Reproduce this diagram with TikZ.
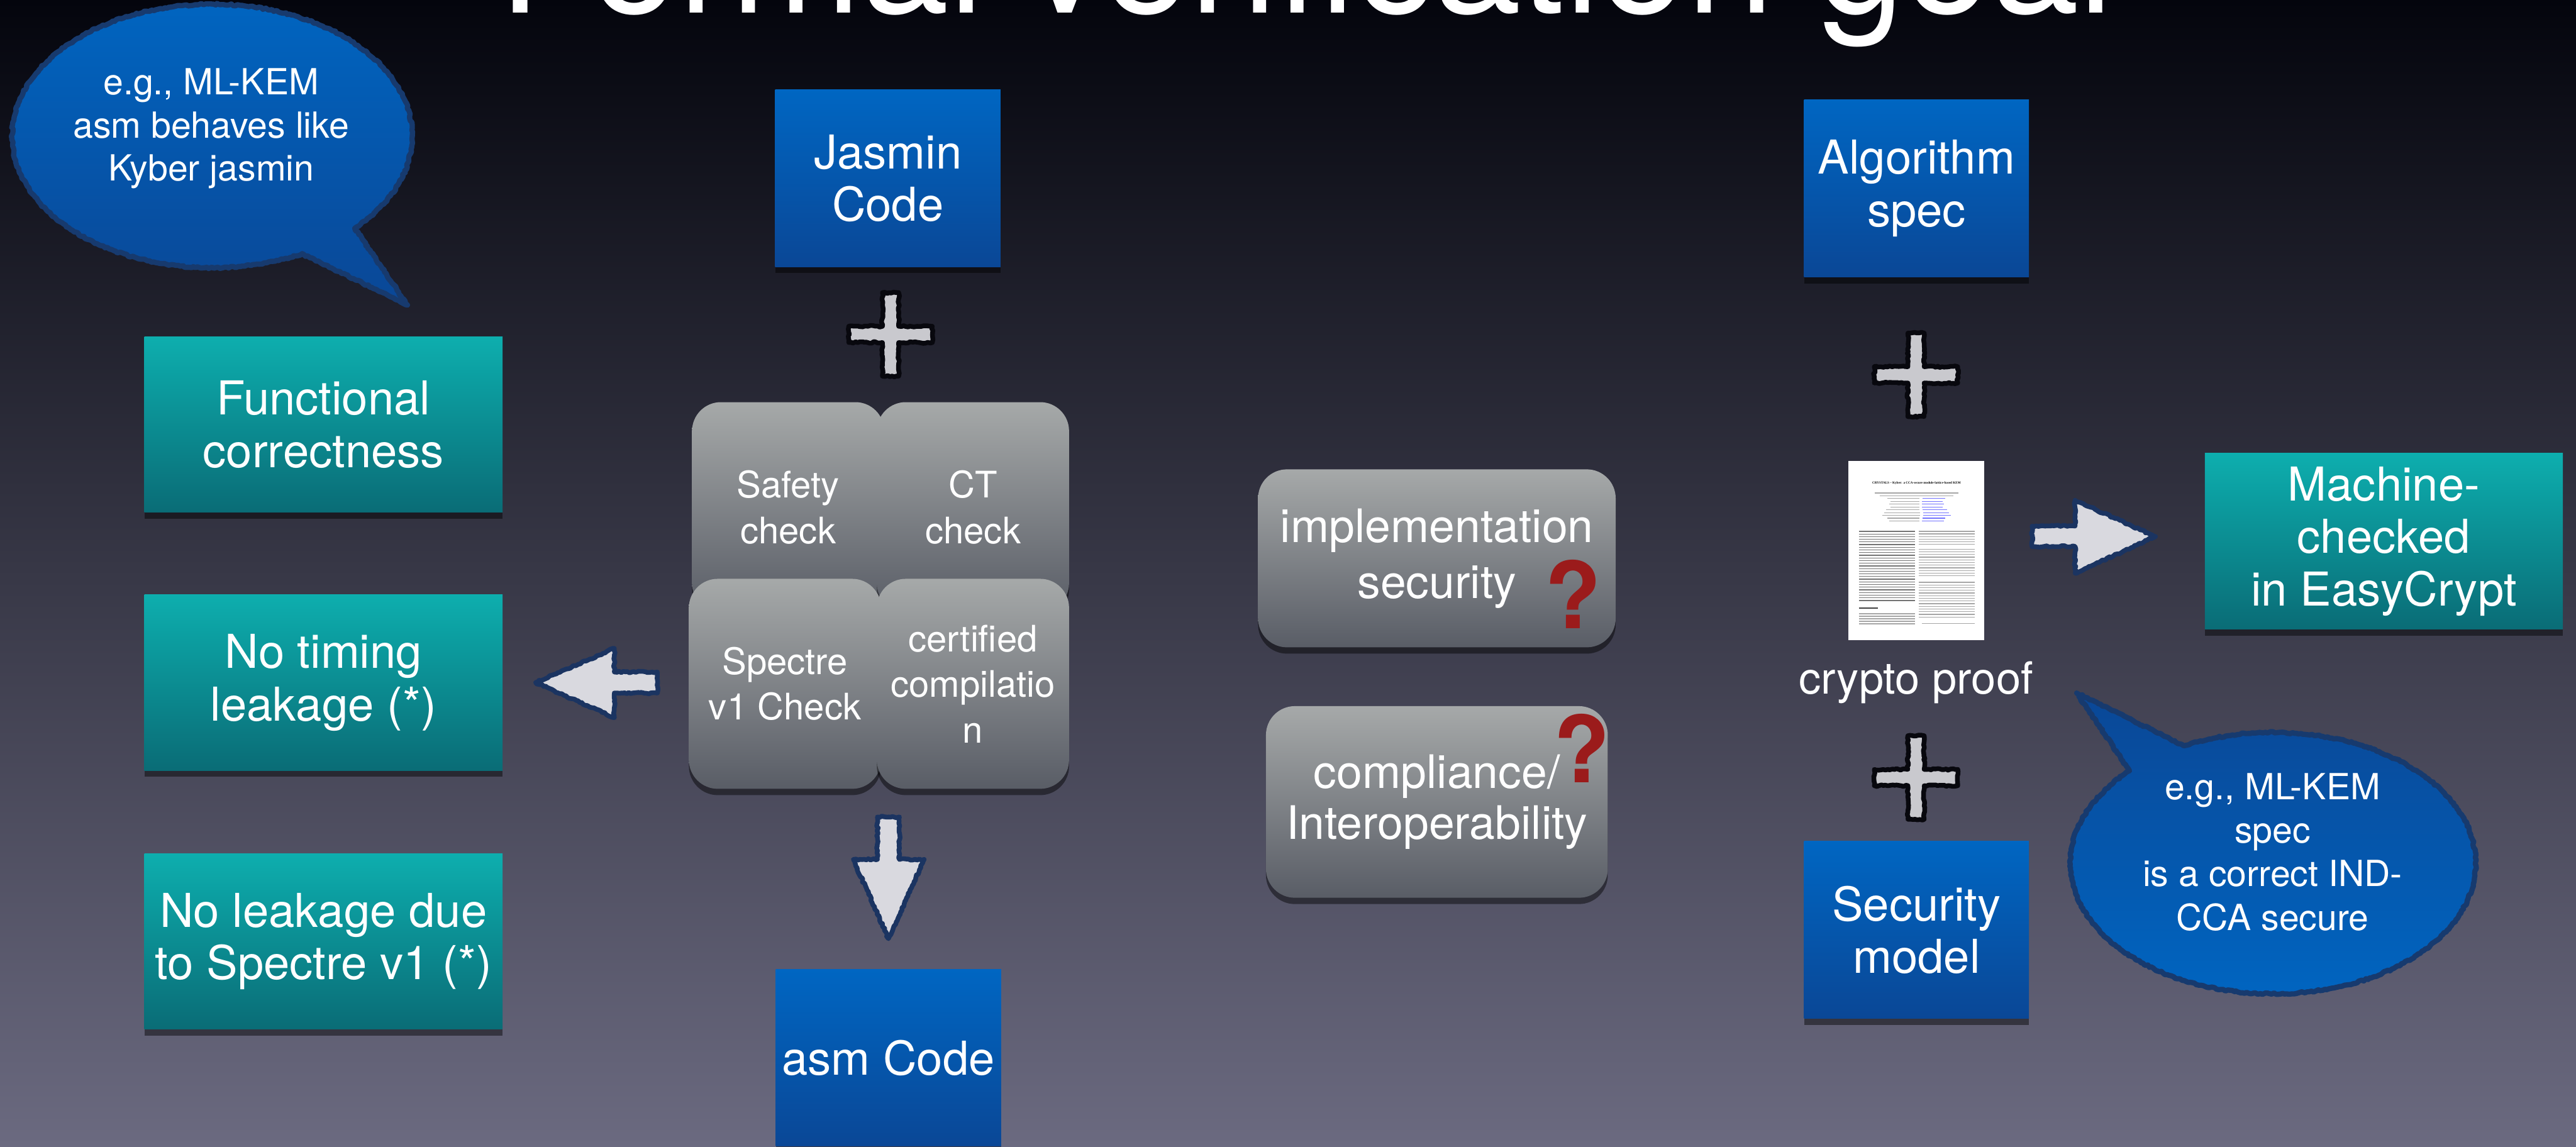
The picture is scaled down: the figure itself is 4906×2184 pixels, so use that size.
\documentclass[tikz,border=0pt]{standalone}
\usepackage{fontspec}
\setmainfont{TeX Gyre Heros}
\newfontfamily\paperfont{Liberation Serif}
\usetikzlibrary{shadows,decorations.pathmorphing}

\definecolor{bgtop}{HTML}{04050D}
\definecolor{bgmid}{HTML}{262A52}
\definecolor{bgbot}{HTML}{6B6A80}
\definecolor{bluetop}{HTML}{0066C2}
\definecolor{bluebot}{HTML}{0A4796}
\definecolor{tealtop}{HTML}{0DAEAE}
\definecolor{tealbot}{HTML}{0A6C76}
\definecolor{graytop}{HTML}{A6A9A9}
\definecolor{graybot}{HTML}{595D66}
\definecolor{arrowfill}{HTML}{D9D9DF}
\definecolor{arrowedge}{HTML}{1B3461}
\definecolor{plusfill}{HTML}{C9C9CE}
\definecolor{plusedge}{HTML}{08080E}
\definecolor{bubbleedge}{HTML}{173A6E}
\definecolor{qred}{HTML}{9B1B1B}

\newcommand\szTitle{\fontsize{85}{90}\selectfont}
\newcommand\szMain{\fontsize{25.3}{28.45}\selectfont}
\newcommand\szCheck{\fontsize{19.8}{24.75}\selectfont}
\newcommand\szBubble{\fontsize{19.5}{23.4}\selectfont}
\newcommand\szQuery{\fontsize{50}{50}\selectfont\bfseries}

\pgfmathsetseed{7}

\tikzset{
  x=0.1mm, y=0.1mm,
  softshadow/.style={drop shadow={shadow xshift=0pt, shadow yshift=-1.2mm, opacity=0.45, fill=black}},
  wtext/.style={text=white, align=center, inner sep=0pt},
  bluebox/.style={wtext, softshadow, top color=bluetop, bottom color=bluebot,
    minimum width=42.9mm, minimum height=33.7mm, font=\szMain},
  tealbox/.style={wtext, softshadow, top color=tealtop, bottom color=tealbot,
    minimum width=68.2mm, minimum height=33.5mm, font=\szMain},
  graybox/.style={wtext, softshadow, top color=graytop, bottom color=graybot, rounded corners=5.5mm},
  checkbox/.style={graybox, minimum width=36.6mm, minimum height=40mm, font=\szCheck},
  rough/.style={decorate, decoration={random steps, segment length=1.2pt, amplitude=0.45pt}},
  blockarrow/.style={fill=arrowfill, draw=arrowedge, line width=0.9mm, line join=round, rough},
  plussign/.style={fill=plusfill, draw=plusedge, line width=0.9mm, line join=round, rough},
  bubble/.style={draw=bubbleedge, line width=1mm, line join=round, rough},
  query/.style={text=qred, font=\szQuery, anchor=base, inner sep=0pt},
  textline/.style={line width=0.15mm, draw=gray!70},
  pics/plus/.style={code={
    \path[plussign] (-15.5,79.5) -- (15.5,79.5) -- (15.5,15.5) -- (79.5,15.5) -- (79.5,-15.5)
      -- (15.5,-15.5) -- (15.5,-79.5) -- (-15.5,-79.5) -- (-15.5,-15.5) -- (-79.5,-15.5)
      -- (-79.5,15.5) -- (-15.5,15.5) -- cycle;}},
}

\begin{document}
\begin{tikzpicture}
\useasboundingbox (0,0) rectangle (4906,2184);
\clip (0,0) rectangle (4906,2184);
\shade[top color=bgtop, middle color=bgmid, bottom color=bgbot] (0,0) rectangle (4906,2184);

% title, partly above the frame
\node[anchor=base, text=white, font=\szTitle, inner sep=0pt] (title) at (2488,2159) {Formal verification goal};

% ---- left column: proved properties ----
\node[tealbox] (func) at (616,1375.5) {Functional\\correctness};
\node[tealbox] (timing) at (616,884) {No timing\\leakage (*)};
\node[tealbox] (spleak) at (616,391) {No leakage due\\to Spectre v1 (*)};

% speech bubble, upper left
\shadedraw[bubble, top color=bluetop, bottom color=bluebot]
  (404,1925) ++(-44.5:381 and 251)
  arc[start angle=-44.5, end angle=296.7, x radius=381, y radius=251]
  -- (776,1603) -- cycle;
\node[wtext, font=\szBubble] (noteL) at (402,1939) {e.g., ML-KEM\\asm behaves like\\Kyber jasmin};

% ---- Jasmin tool chain ----
\node[bluebox] (jasmin) at (1691,1844.5) {Jasmin\\Code};
\pic at (1696,1547) {plus};

\node[checkbox] (safety) at (1501,1218) {Safety\\check};
\node[checkbox] (ctcheck) at (1853,1218) {CT\\check};
\node[checkbox] (spectre) at (1495,881.5) {Spectre\\v1 Check};
\node[checkbox] (certified) at (1853,881.5) {certified\\compilatio\\n};

% block arrows out of the checks
\path[blockarrow] (1020,884) -- (1170,949) -- (1170,904) -- (1252,904) -- (1252,864)
  -- (1170,864) -- (1170,817) -- cycle;
\path[blockarrow] (1671,628) -- (1713,628) -- (1713,547) -- (1760,547) -- (1692,396)
  -- (1625,547) -- (1671,547) -- cycle;

\node[bluebox] (asm) at (1692,169) {asm Code};

% ---- middle: open questions ----
\node[graybox, minimum width=68.1mm, minimum height=33.9mm, font=\fontsize{25}{30.4}\selectfont]
  (impl) at (2736.5,1120.5) {implementation\\security};
\node[query] (q1) at (2996,987) {?};
\node[graybox, minimum width=65.1mm, minimum height=36.5mm, font=\fontsize{25}{27.9}\selectfont]
  (compl) at (2736.5,656.5) {compliance/\\Interoperability};
\node[query] (q2) at (3013,693) {?};

% ---- right: crypto proof ----
\node[bluebox, minimum width=42.8mm, minimum height=33.8mm] (algo) at (3650,1825) {Algorithm\\spec};
\pic at (3649,1470) {plus};

% paper thumbnail
\node[fill=white, inner sep=0pt, minimum width=25.9mm, minimum height=34.1mm] (paper) at (3649.5,1135.5) {};
\node[font=\paperfont\bfseries\fontsize{1.75}{2}\selectfont, inner sep=0pt] (ptitle) at (3650,1264)
  {CRYSTALS – Kyber: a CCA-secure module-lattice-based KEM};
\foreach \k/\w in {0/80, 1/70}
  \draw[textline] ({3650-\w},{1245-5.33*\k}) -- ({3650+\w},{1245-5.33*\k});
\foreach \k/\w in {2/55,3/50,4/52,5/50,6/58,7/62,8/65,9/55,10/52} {
  \draw[textline, line width=0.13mm] ({3650-\w},{1245-5.33*\k}) -- ({3650+0.1*\w},{1245-5.33*\k});
  \draw[textline, line width=0.13mm, draw=blue!55] ({3650+0.2*\w},{1245-5.33*\k}) -- ({3650+\w},{1245-5.33*\k});
}
\foreach \k in {0,...,26}
  \draw[textline, draw=black!55] ({3540},{1172-5.07*\k}) -- ({3647},{1172-5.07*\k});
\draw[textline, draw=black!75, line width=0.22mm] (3540,1026) -- (3576,1026);
\foreach \k in {0,...,4}
  \draw[textline] ({3540},{1015-4.8*\k}) -- ({3647},{1015-4.8*\k});
\foreach \k in {0,...,5}
  \draw[textline] ({3654},{1172-5*\k}) -- ({3761},{1172-5*\k});
\foreach \k in {0,...,10}
  \draw[textline] ({3654},{1138-5.1*\k}) -- ({3761},{1138-5.1*\k});
\foreach \k in {0,...,13}
  \draw[textline] ({3654},{1075-5.1*\k}) -- ({3761},{1075-5.1*\k});
\draw[textline] (3660,996) -- (3761,996);

\node[anchor=base, text=white, font=\fontsize{24}{28}\selectfont, inner sep=0pt] (proof) at (3649,862) {crypto proof};

\path[blockarrow] (3870,1182) -- (3952,1182) -- (3952,1231) -- (4105,1162) -- (3952,1092)
  -- (3952,1143) -- (3870,1143) -- cycle;
\node[tealbox] (machine) at (4540,1153) {Machine-\\checked\\in EasyCrypt};

\pic at (3649,703) {plus};
\node[bluebox, minimum width=42.8mm, minimum height=33.8mm] (secmodel) at (3650,413) {Security\\model};

% speech bubble, lower right
\shadedraw[bubble, top color=bluebot, bottom color=bluetop]
  (4329,540) ++(135.1:386 and 249)
  arc[start angle=135.1, end angle=476.1, x radius=386, y radius=249]
  -- (3955,864) -- cycle;
\node[wtext, font=\fontsize{19.5}{23.6}\selectfont] (noteR) at (4328,561)
  {e.g., ML-KEM\\spec\\is a correct IND-\\CCA secure};
\end{tikzpicture}
\end{document}
